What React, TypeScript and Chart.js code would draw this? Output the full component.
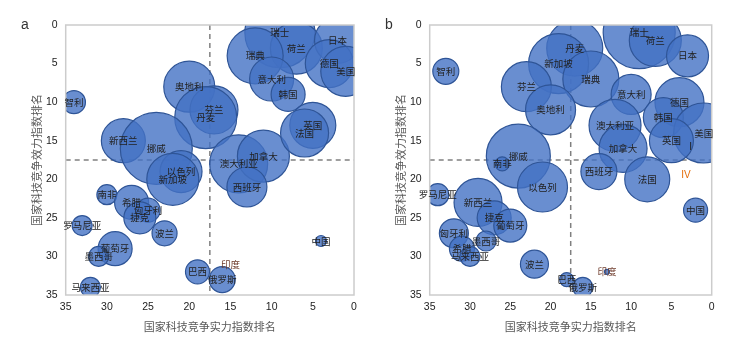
import React, { useEffect, useRef } from 'react';
import { Chart, registerables } from 'chart.js';

Chart.register(...registerables);

// Panel a
const countriesA = ['瑞士', '荷兰', '瑞典', '日本', '德国', '美国', '意大利', '韩国', '奥地利', '芬兰', '丹麦', '智利', '新西兰', '挪威', '以色列', '新加坡', '澳大利亚', '加拿大', '西班牙', '英国', '法国', '南非', '希腊', '匈牙利', '捷克', '波兰', '罗马尼亚', '葡萄牙', '墨西哥', '马来西亚', '巴西', '俄罗斯', '印度', '中国'];
const strengthA = [9, 7, 12, 2, 3, 1, 10, 8, 20, 17, 18, 34, 28, 24, 21, 22, 14, 11, 13, 5, 6, 30, 27, 25, 26, 23, 33, 29, 31, 32, 19, 16, 15, 4];
const efficiencyA = [1, 3, 4, 2, 5, 6, 7, 9, 8, 11, 12, 10, 15, 16, 19, 20, 18, 17, 21, 13, 14, 22, 23, 24, 25, 27, 26, 29, 30, 34, 32, 33, 31, 28];
const bubbleA = [35, 26, 28, 23, 24, 25, 22, 17, 25.5, 24, 31, 11.5, 22, 36, 21, 26, 29, 26, 20, 23, 24, 10, 17, 12, 16, 12.5, 10, 17, 10, 10, 12, 13, 0, 5.5];

// Panel b
const countriesB = ['瑞士', '荷兰', '日本', '丹麦', '新加坡', '瑞典', '芬兰', '意大利', '奥地利', '德国', '韩国', '美国', '澳大利亚', '英国', '加拿大', '挪威', '南非', '西班牙', '法国', '以色列', '中国', '罗马尼亚', '新西兰', '捷克', '葡萄牙', '匈牙利', '墨西哥', '希腊', '马来西亚', '波兰', '巴西', '俄罗斯', '印度', '智利'];
const strengthB = [9, 7, 3, 17, 19, 15, 23, 10, 20, 4, 6, 1, 12, 5, 11, 24, 26, 14, 8, 21, 2, 34, 29, 27, 25, 32, 28, 31, 30, 22, 18, 16, 13, 33];
const efficiencyB = [1, 2, 4, 3, 5, 7, 8, 9, 11, 10, 12, 14, 13, 15, 16, 17, 18, 19, 20, 21, 24, 22, 23, 25, 26, 27, 28, 29, 30, 31, 33, 34, 32, 6];
const bubbleB = [36, 26, 21, 28, 30, 28, 25, 20, 25, 24.5, 20, 30, 26, 22, 24, 32, 7, 18, 22.5, 25, 12, 11, 24, 17, 16.5, 14.5, 10, 12.5, 10, 14, 7, 10, 2.5, 13];

// Quadrant marks visible in panel b
const quadTextB = ['I', 'IV'];
const quadXB = [2.6, 3.2];
const quadYB = [15.9, 19.5];

const xTicks = [0, 5, 10, 15, 20, 25, 30, 35];
const divider = 17.5;

const X_TITLE = '国家科技竞争实力指数排名';
const Y_TITLE = '国家科技竞争效力指数排名';

type PanelProps = {
  letter: string;
  names: string[];
  xs: number[];
  ys: number[];
  rs: number[];
  width: number;
  padRight: number;
  quads?: { text: string[]; x: number[]; y: number[] };
};

const CJK = '"Noto Sans CJK SC", "Noto Sans", sans-serif';
const LAT = '"Liberation Sans", Arial, sans-serif';

function Panel({ letter, names, xs, ys, rs, width, padRight, quads }: PanelProps) {
  const ref = useRef<HTMLCanvasElement | null>(null);
  useEffect(() => {
    if (!ref.current) return;
    const plugin = {
      id: 'panelDecor',
      beforeDatasetsDraw(chart: any) {
        const { ctx, chartArea, scales } = chart;
        const { left, right, top, bottom } = chartArea;
        const px = scales.x.getPixelForValue(divider);
        const py = scales.y.getPixelForValue(divider);
        ctx.save();
        ctx.strokeStyle = '#808080';
        ctx.lineWidth = 1.5;
        ctx.setLineDash([5, 4]);
        ctx.beginPath();
        ctx.moveTo(px, top);
        ctx.lineTo(px, bottom);
        ctx.moveTo(left, py);
        ctx.lineTo(right, py);
        ctx.stroke();
        ctx.restore();
      },
      afterDatasetsDraw(chart: any) {
        const { ctx, chartArea, scales } = chart;
        const { left, right, top, bottom } = chartArea;
        ctx.save();
        ctx.strokeStyle = '#cccccc';
        ctx.lineWidth = 1.5;
        ctx.strokeRect(left, top, right - left, bottom - top);
        // data labels
        const meta = chart.getDatasetMeta(0);
        ctx.font = `9.5px ${CJK}`;
        ctx.textAlign = 'center';
        ctx.textBaseline = 'middle';
        meta.data.forEach((el: any, i: number) => {
          ctx.fillStyle = names[i] === '印度' ? '#6e3b2b' : '#222222';
          ctx.fillText(names[i], el.x, el.y);
        });
        if (quads) {
          quads.text.forEach((t, i) => {
            ctx.font = `10px ${LAT}`;
            ctx.fillStyle = t === 'IV' ? '#E46C0A' : '#222222';
            ctx.fillText(t, scales.x.getPixelForValue(quads.x[i]), scales.y.getPixelForValue(quads.y[i]));
          });
        }
        ctx.font = `14px ${LAT}`;
        ctx.fillStyle = '#333333';
        ctx.textAlign = 'left';
        ctx.textBaseline = 'alphabetic';
        ctx.fillText(letter, 21, 29);
        ctx.restore();
      },
    };
    const chart = new Chart(ref.current, {
      type: 'bubble',
      data: {
        datasets: [
          {
            data: names.map((_, i) => ({ x: xs[i], y: ys[i], r: rs[i] })),
            backgroundColor: 'rgba(68,114,196,0.8)',
            borderColor: '#2F5597',
            borderWidth: 1.2,
            hoverBorderWidth: 1.2,
            clip: 0,
          } as any,
        ],
      },
      options: {
        responsive: false,
        animation: false,
        events: [],
        layout: { autoPadding: false, padding: { left: 0, top: 25, right: padRight, bottom: 0 } },
        plugins: { legend: { display: false }, tooltip: { enabled: false } },
        scales: {
          x: {
            type: 'linear',
            min: 0,
            max: 35,
            reverse: true,
            grid: { display: false, drawTicks: false },
            border: { display: false },
            afterBuildTicks: (s: any) => {
              s.ticks = xTicks.map((v) => ({ value: v }));
            },
            afterFit: (s: any) => {
              s.height = 49;
            },
            ticks: {
              autoSkip: false,
              maxRotation: 0,
              padding: 6,
              color: '#222222',
              font: { family: LAT, size: 10.5 },
            },
            title: {
              display: true,
              text: X_TITLE,
              color: '#595959',
              font: { family: CJK, size: 11 },
              padding: { top: 0, bottom: 11 },
            },
          },
          y: {
            type: 'linear',
            min: 0,
            max: 35,
            reverse: true,
            grid: { display: false, drawTicks: false },
            border: { display: false },
            afterBuildTicks: (s: any) => {
              s.ticks = xTicks.map((v) => ({ value: v }));
            },
            afterFit: (s: any) => {
              s.width = 65.7;
            },
            ticks: {
              autoSkip: false,
              padding: 8,
              color: '#222222',
              font: { family: LAT, size: 10.5 },
            },
            title: {
              display: true,
              text: Y_TITLE,
              color: '#595959',
              font: { family: CJK, size: 11 },
              padding: { top: 30, bottom: 0 },
            },
          },
        },
      } as any,
      plugins: [plugin],
    });
    return () => chart.destroy();
  }, []);
  return <canvas ref={ref} width={width} height={344} style={{ display: 'block', width, height: 344 }} />;
}

export default function App() {
  return (
    <div style={{ position: 'absolute', left: 0, top: 0, width: 729, height: 344, display: 'flex', background: '#fff' }}>
      <Panel letter="a" names={countriesA} xs={strengthA} ys={efficiencyA} rs={bubbleA} width={364} padRight={10} />
      <Panel
        letter="b"
        names={countriesB}
        xs={strengthB}
        ys={efficiencyB}
        rs={bubbleB}
        width={365}
        padRight={17.3}
        quads={{ text: quadTextB, x: quadXB, y: quadYB }}
      />
    </div>
  );
}
